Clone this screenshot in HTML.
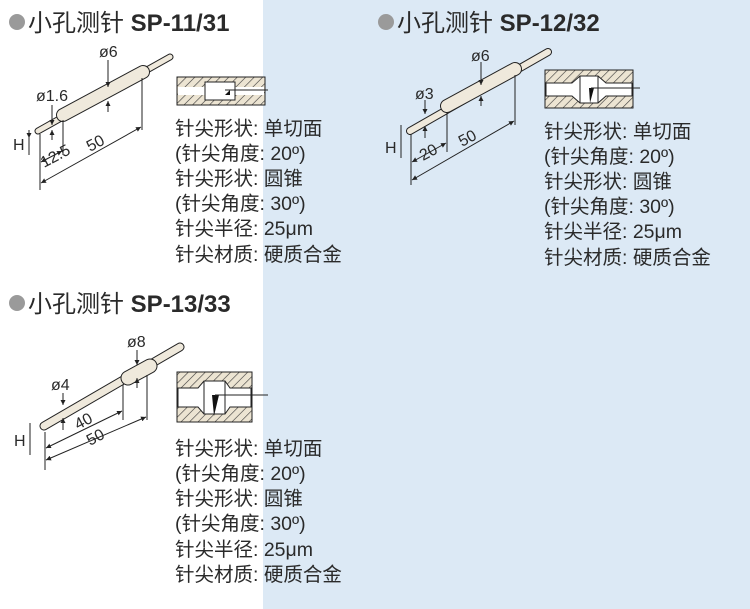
<!DOCTYPE html>
<html><head><meta charset="utf-8"><style>
body{margin:0;width:750px;height:609px;overflow:hidden;background:#fff}
svg{display:block}
text{font-family:"Liberation Sans","Noto Sans CJK SC",sans-serif;fill:#2a2a2a}
.t{font-size:19.5px}
.h{font-size:24px}
.d{font-size:16px}
</style></head><body>
<svg width="750" height="609" viewBox="0 0 750 609">
<defs>
<pattern id="hat" width="6" height="6" patternUnits="userSpaceOnUse" patternTransform="rotate(45)">
<rect width="6" height="6" fill="#ece4d2"/><line x1="0" y1="0" x2="0" y2="6" stroke="#333" stroke-width="1.2"/></pattern>
<marker id="a" viewBox="0 0 6 6" refX="6" refY="3" markerWidth="5" markerHeight="5" orient="auto-start-reverse"><path d="M0,0L6,3L0,6z" fill="#222"/></marker>
</defs>
<rect x="263" y="0" width="487" height="609" fill="#dce9f5"/>

<circle cx="17" cy="22" r="8" fill="#9a9a9a"/>
<text class="h" x="28" y="31">小孔测针 <tspan font-weight="bold">SP-11/31</tspan></text>
<circle cx="386" cy="22" r="8" fill="#9a9a9a"/>
<text class="h" x="397" y="31">小孔测针 <tspan font-weight="bold">SP-12/32</tspan></text>
<circle cx="17" cy="303" r="8" fill="#9a9a9a"/>
<text class="h" x="28" y="312">小孔测针 <tspan font-weight="bold">SP-13/33</tspan></text>

<g stroke-linecap="round" fill="none">
<line x1="38" y1="131" x2="170" y2="57" stroke="#222" stroke-width="7"/>
<line x1="38" y1="131" x2="170" y2="57" stroke="#efe9dc" stroke-width="5"/>
<line x1="63" y1="115" x2="143" y2="72" stroke="#222" stroke-width="14"/>
<line x1="63" y1="115" x2="143" y2="72" stroke="#efe9dc" stroke-width="12"/>
<line x1="410" y1="131" x2="548" y2="52" stroke="#222" stroke-width="8"/>
<line x1="410" y1="131" x2="548" y2="52" stroke="#efe9dc" stroke-width="6"/>
<line x1="447" y1="106" x2="515" y2="69" stroke="#222" stroke-width="14"/>
<line x1="447" y1="106" x2="515" y2="69" stroke="#efe9dc" stroke-width="12"/>
<line x1="44" y1="426" x2="180" y2="347" stroke="#222" stroke-width="9"/>
<line x1="44" y1="426" x2="180" y2="347" stroke="#efe9dc" stroke-width="7"/>
<line x1="128" y1="378" x2="150" y2="366" stroke="#222" stroke-width="15"/>
<line x1="128" y1="378" x2="150" y2="366" stroke="#efe9dc" stroke-width="13"/>
</g>

<g stroke="#222" stroke-width="1" fill="none">
<line x1="40" y1="134" x2="40" y2="190"/><line x1="142" y1="78" x2="142" y2="130"/>
<line x1="63" y1="120" x2="63" y2="155"/>
<line x1="41" y1="183" x2="141" y2="127" marker-start="url(#a)" marker-end="url(#a)"/>
<line x1="41" y1="162" x2="62" y2="151" marker-start="url(#a)" marker-end="url(#a)"/>
<line x1="108" y1="60" x2="108" y2="87" marker-end="url(#a)"/>
<line x1="108" y1="112" x2="108" y2="101" marker-end="url(#a)"/>
<line x1="52" y1="105" x2="52" y2="125" marker-end="url(#a)"/><line x1="52" y1="140" x2="52" y2="130" marker-end="url(#a)"/>
<line x1="29" y1="130" x2="29" y2="155"/><line x1="29" y1="130" x2="29" y2="138" marker-end="url(#a)"/>
<line x1="411" y1="134" x2="411" y2="185"/><line x1="515" y1="75" x2="515" y2="125"/>
<line x1="447" y1="112" x2="447" y2="152"/>
<line x1="412" y1="180" x2="514" y2="121" marker-start="url(#a)" marker-end="url(#a)"/>
<line x1="412" y1="162" x2="446" y2="143" marker-start="url(#a)" marker-end="url(#a)"/>
<line x1="481" y1="62" x2="481" y2="85" marker-end="url(#a)"/><line x1="481" y1="106" x2="481" y2="96" marker-end="url(#a)"/>
<line x1="425" y1="100" x2="425" y2="114" marker-end="url(#a)"/><line x1="425" y1="138" x2="425" y2="126" marker-end="url(#a)"/>
<line x1="401" y1="125" x2="401" y2="158"/>
<line x1="45" y1="432" x2="45" y2="470"/><line x1="123" y1="385" x2="123" y2="420"/><line x1="147" y1="375" x2="147" y2="420"/>
<line x1="46" y1="460" x2="146" y2="417" marker-start="url(#a)" marker-end="url(#a)"/>
<line x1="46" y1="448" x2="122" y2="411" marker-start="url(#a)" marker-end="url(#a)"/>
<line x1="137" y1="350" x2="137" y2="365" marker-end="url(#a)"/><line x1="137" y1="388" x2="137" y2="378" marker-end="url(#a)"/>
<line x1="63" y1="393" x2="63" y2="405" marker-end="url(#a)"/><line x1="63" y1="430" x2="63" y2="418" marker-end="url(#a)"/>
<line x1="30" y1="423" x2="30" y2="455"/>
</g>
<g class="d">
<text x="99" y="57">ø6</text><text x="36" y="101">ø1.6</text>
<text x="13" y="150">H</text>
<text x="44" y="168" transform="rotate(-28 44 168)">12.5</text>
<text x="90" y="152" transform="rotate(-28 90 152)">50</text>
<text x="471" y="61">ø6</text><text x="415" y="99">ø3</text>
<text x="385" y="153">H</text>
<text x="423" y="161" transform="rotate(-28 423 161)">20</text>
<text x="462" y="147" transform="rotate(-28 462 147)">50</text>
<text x="127" y="347">ø8</text><text x="51" y="390">ø4</text>
<text x="14" y="446">H</text>
<text x="78" y="430" transform="rotate(-28 78 430)">40</text>
<text x="90" y="446" transform="rotate(-28 90 446)">50</text>
</g>

<rect x="177" y="77" width="88" height="28" fill="url(#hat)" stroke="#222"/>
<rect x="178" y="87" width="86" height="8" fill="#fff"/>
<rect x="205" y="82" width="30" height="18" fill="#fff" stroke="#222"/>
<path d="M225,95 L230,90 L230,95z" fill="#111"/>
<line x1="225" y1="90" x2="268" y2="90" stroke="#222"/>
<rect x="545" y="70" width="88" height="38" fill="url(#hat)" stroke="#222"/>
<path d="M546,83 L572,83 L580,76 L598,76 L606,83 L632,83 L632,96 L606,96 L598,103 L580,103 L572,96 L546,96z" fill="#fff" stroke="#222"/>
<line x1="580" y1="76" x2="580" y2="103" stroke="#222"/><line x1="598" y1="76" x2="598" y2="103" stroke="#222"/>
<path d="M589,88 L594,88 L590,103z" fill="#111"/>
<line x1="591" y1="88" x2="640" y2="88" stroke="#222"/>
<rect x="177" y="372" width="75" height="50" fill="url(#hat)" stroke="#222"/>
<path d="M178,388 L198,388 L204,381 L225,381 L230,388 L251,388 L251,407 L230,407 L225,414 L204,414 L198,407 L178,407z" fill="#fff" stroke="#222"/>
<line x1="204" y1="381" x2="204" y2="414" stroke="#222"/><line x1="225" y1="381" x2="225" y2="414" stroke="#222"/>
<path d="M212,395 L219,395 L214,416z" fill="#111"/>
<line x1="215" y1="395" x2="268" y2="395" stroke="#222"/>

<g class="t">
<text x="175" y="135">针尖形状: 单切面</text><text x="175" y="160">(针尖角度: 20º)</text>
<text x="175" y="185">针尖形状: 圆锥</text><text x="175" y="210">(针尖角度: 30º)</text>
<text x="175" y="235">针尖半径: 25μm</text><text x="175" y="261">针尖材质: 硬质合金</text>
<text x="544" y="138">针尖形状: 单切面</text><text x="544" y="163">(针尖角度: 20º)</text>
<text x="544" y="188">针尖形状: 圆锥</text><text x="544" y="213">(针尖角度: 30º)</text>
<text x="544" y="238">针尖半径: 25μm</text><text x="544" y="264">针尖材质: 硬质合金</text>
<text x="175" y="455">针尖形状: 单切面</text><text x="175" y="480">(针尖角度: 20º)</text>
<text x="175" y="505">针尖形状: 圆锥</text><text x="175" y="530">(针尖角度: 30º)</text>
<text x="175" y="556">针尖半径: 25μm</text><text x="175" y="581">针尖材质: 硬质合金</text>
</g>
</svg>
</body></html>
